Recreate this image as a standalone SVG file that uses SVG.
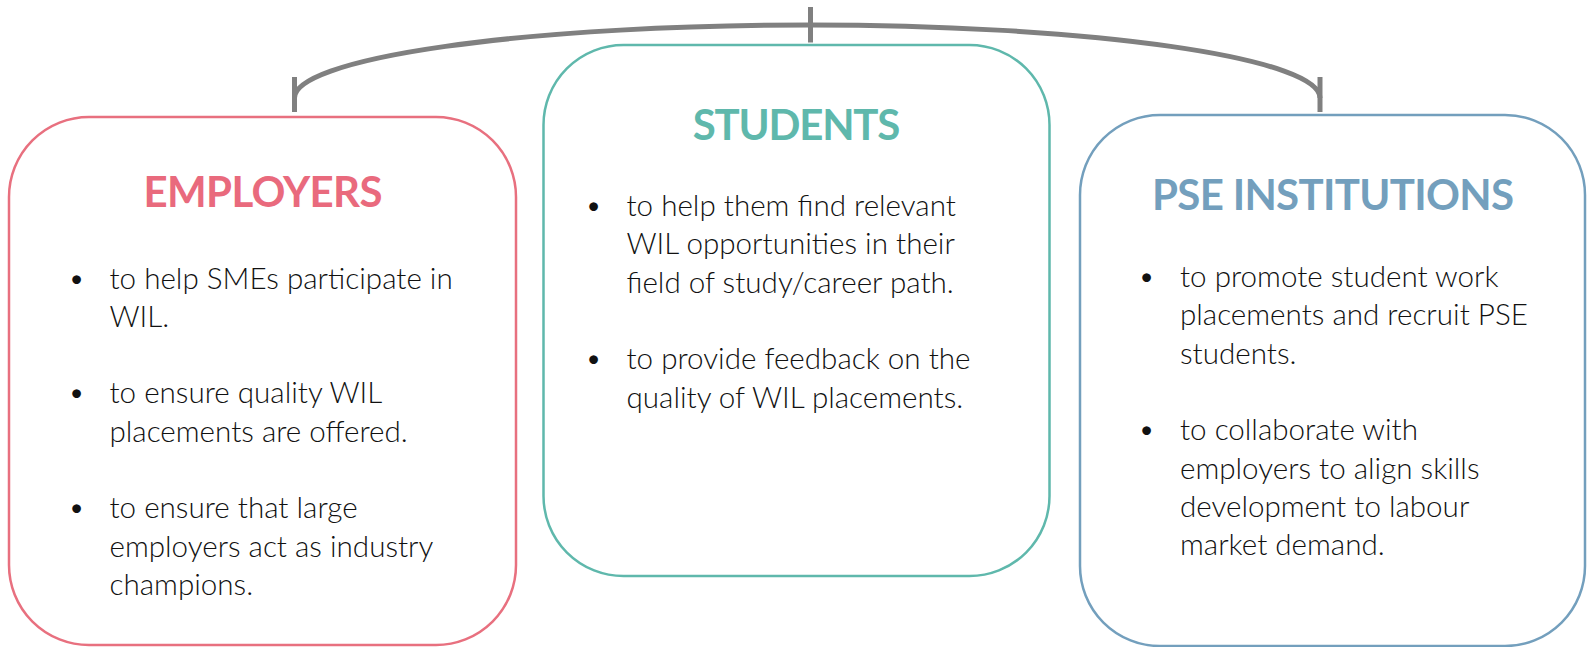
<svg xmlns="http://www.w3.org/2000/svg" width="1587" height="647" viewBox="0 0 1587 647">
<style>
.box{fill:#fff;stroke-width:2.5}
.title{font-family:Lato,"Liberation Sans",sans-serif;font-weight:700;font-size:42px;text-anchor:middle}
.body{font-family:Lato,"Liberation Sans",sans-serif;font-weight:300;font-size:29.6px;fill:#111}
.conn{fill:none;stroke:#808080;stroke-width:5}
</style>
<rect width="1587" height="647" fill="#fff"/>
<g id="connectors">
<path class="conn" d="M294.5,98 A515.5,73 0 0 1 810,25 A510,73 0 0 1 1320,98"/>
<line class="conn" x1="294.5" y1="77" x2="294.5" y2="112"/>
<line class="conn" x1="810.5" y1="7" x2="810.5" y2="42.5"/>
<line class="conn" x1="1320" y1="77" x2="1320" y2="112"/>
</g>
<g id="employers">
<rect class="box" x="9" y="117" width="507" height="528" rx="80" stroke="#E8707F"/>
<text class="title" x="263" y="206.5" fill="#E96A7D" textLength="239">EMPLOYERS</text>
<g class="body">
<text x="68" y="288.5">•</text><text x="109.5" y="288.5">to help SMEs participate in</text>
<text x="109.5" y="326.8">WIL.</text>
<text x="68" y="403.4">•</text><text x="109.5" y="403.4">to ensure quality WIL</text>
<text x="109.5" y="441.7">placements are offered.</text>
<text x="68" y="518.3">•</text><text x="109.5" y="518.3">to ensure that large</text>
<text x="109.5" y="556.6">employers act as industry</text>
<text x="109.5" y="595">champions.</text>
</g>
</g>
<g id="students">
<rect class="box" x="543.5" y="45" width="506" height="531" rx="80" stroke="#5FB8AC"/>
<text class="title" x="796.5" y="140" fill="#5FB8AC" textLength="207.5">STUDENTS</text>
<g class="body">
<text x="585" y="216">•</text><text x="626.5" y="216">to help them find relevant</text>
<text x="626.5" y="254.3">WIL opportunities in their</text>
<text x="626.5" y="292.6">field of study/career path.</text>
<text x="585" y="369.2">•</text><text x="626.5" y="369.2">to provide feedback on the</text>
<text x="626.5" y="407.5">quality of WIL placements.</text>
</g>
</g>
<g id="pse">
<rect class="box" x="1080" y="115" width="505" height="531" rx="80" stroke="#739FBD"/>
<text class="title" x="1333" y="209.5" fill="#739FBD" textLength="362">PSE INSTITUTIONS</text>
<g class="body">
<text x="1138" y="287">•</text><text x="1180" y="287">to promote student work</text>
<text x="1180" y="325.3">placements and recruit PSE</text>
<text x="1180" y="363.6">students.</text>
<text x="1138" y="440.2">•</text><text x="1180" y="440.2">to collaborate with</text>
<text x="1180" y="478.5">employers to align skills</text>
<text x="1180" y="516.8">development to labour</text>
<text x="1180" y="555.1">market demand.</text>
</g>
</g>
</svg>
